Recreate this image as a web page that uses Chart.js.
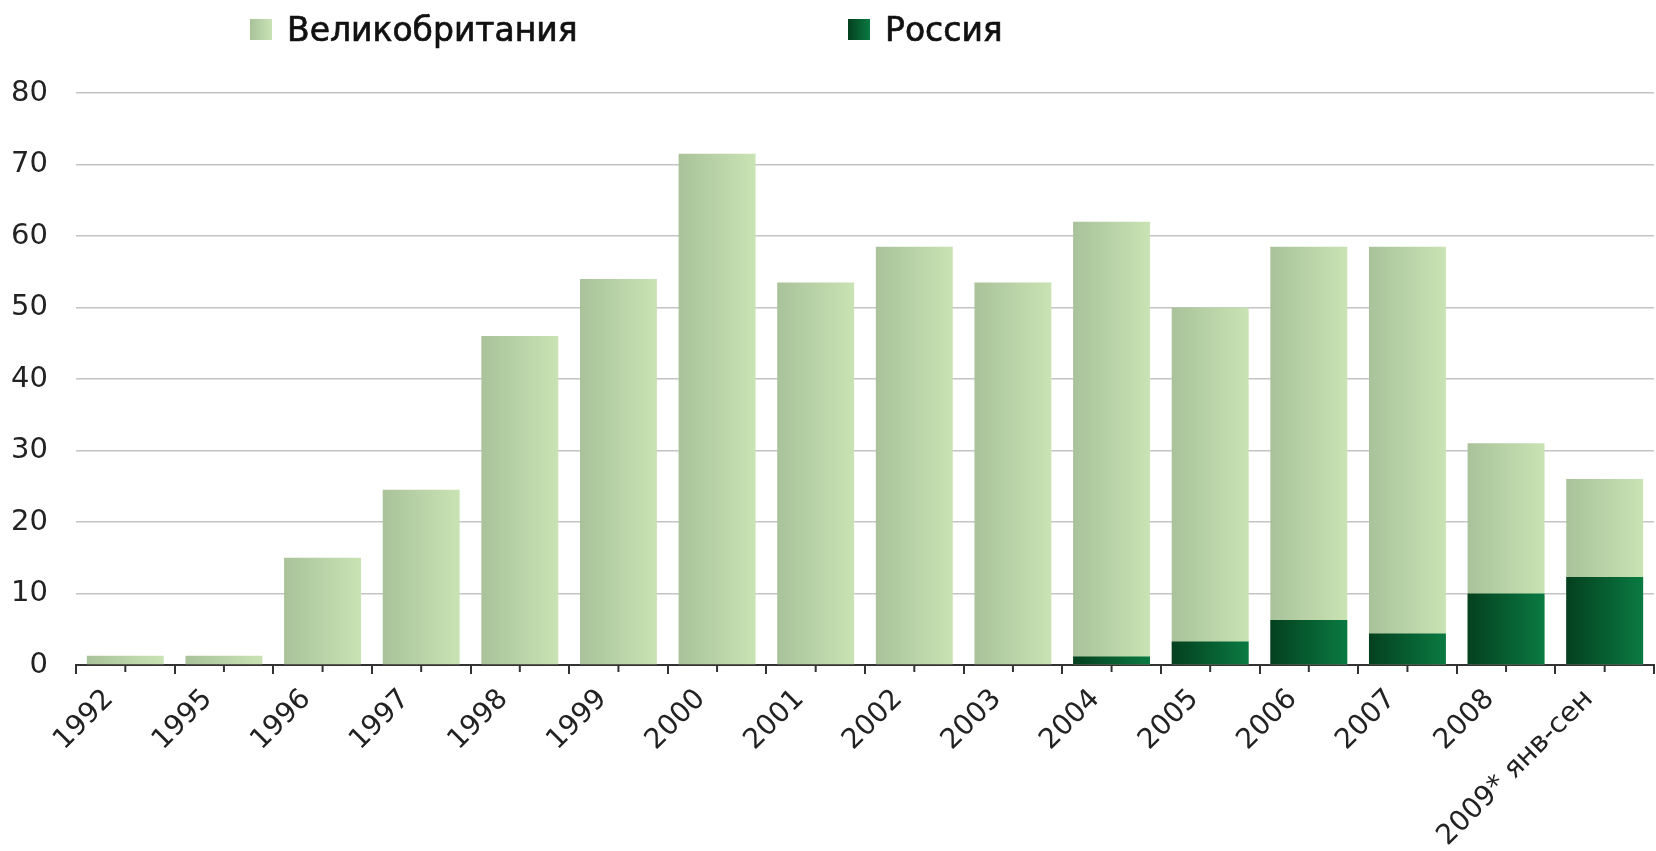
<!DOCTYPE html>
<html lang="ru">
<head>
  <meta charset="UTF-8" />
  <title>Великобритания и Россия</title>
  <script src="https://cdn.jsdelivr.net/npm/chart.js"></script>
  <style>
    body {
      margin: 0;
      background: #fff;
      font-family: "DejaVu Sans", sans-serif;
    }
    #wrap {
      position: relative;
      width: 1656px;
      height: 851px;
    }
    .legend-item {
      position: absolute;
      top: 10px;
      display: flex;
      align-items: center;
      font-size: 33px;
      color: #111;
      -webkit-text-stroke: 0.7px #111;
    }
    .legend-item span.box {
      display: inline-block;
      width: 22px;
      height: 21px;
      margin-right: 15px;
    }
  </style>
</head>
<body>
  <div id="wrap">
    <div class="legend-item" style="left:250px"><span class="box" style="background:linear-gradient(to right,#a9c29a,#c9e3b4)"></span>Великобритания</div>
    <div class="legend-item" style="left:848px"><span class="box" style="background:linear-gradient(to right,#04401f,#0a7a42)"></span>Россия</div>
    <canvas id="grafico" width="1656" height="851"></canvas>
  </div>

  <script>
    const years = ["1992", "1995", "1996", "1997", "1998", "1999", "2000", "2001",
                   "2002", "2003", "2004", "2005", "2006", "2007", "2008", "2009* янв-сен"];
    const ukValues = [1.3, 1.3, 15, 24.5, 46, 54, 71.5, 53.5, 58.5, 53.5, 62, 50, 58.5, 58.5, 31, 26];
    const ruValues = [null, null, null, null, null, null, null, null, null, null, 1.2, 3.3, 6.3, 4.4, 10, 12.3];
    const yTicks = [0, 10, 20, 30, 40, 50, 60, 70, 80];

    const barShare = 0.78;

    // горизонтальный градиент для каждого столбца
    function barGradient(left, right) {
      return function (ctx) {
        const chart = ctx.chart;
        const xs = chart.scales && chart.scales.x;
        if (!chart.chartArea || !xs || ctx.dataIndex === undefined) return right;
        const cx = xs.getPixelForValue(ctx.dataIndex);
        const half = xs.width / years.length * barShare / 2;
        const g = chart.ctx.createLinearGradient(cx - half, 0, cx + half, 0);
        g.addColorStop(0, left);
        g.addColorStop(1, right);
        return g;
      };
    }

    // короткие засечки в центре каждой категории
    const midTicks = {
      id: "midTicks",
      afterDraw(chart) {
        const xs = chart.scales.x;
        const c = chart.ctx;
        c.save();
        c.strokeStyle = "#333";
        c.lineWidth = 2;
        years.forEach((_, i) => {
          const x = xs.getPixelForValue(i);
          c.beginPath();
          c.moveTo(x, xs.top);
          c.lineTo(x, xs.top + 7);
          c.stroke();
        });
        c.restore();
      }
    };

    const ctx = document.getElementById("grafico").getContext("2d");
    new Chart(ctx, {
      type: "bar",
      data: {
        labels: years,
        datasets: [
          {
            label: "Великобритания",
            data: ukValues,
            backgroundColor: barGradient("#a9c29a", "#c9e3b4"),
            order: 2,
            categoryPercentage: barShare,
            barPercentage: 1
          },
          {
            label: "Россия",
            data: ruValues,
            backgroundColor: barGradient("#04401f", "#0a7a42"),
            order: 1,
            categoryPercentage: barShare,
            barPercentage: 1
          }
        ]
      },
      options: {
        responsive: false,
        animation: false,
        layout: { padding: { top: 93, left: 0, right: 2, bottom: 0 } },
        plugins: {
          legend: { display: false },
          tooltip: { enabled: false }
        },
        scales: {
          x: {
            stacked: true,
            afterFit(scale) {
              scale.paddingLeft = 0;
              scale.paddingRight = 0;
              scale.height = 186;
            },
            grid: {
              offset: true,
              drawOnChartArea: false,
              drawTicks: true,
              tickLength: 9,
              color: "#333",
              lineWidth: 2
            },
            border: { color: "#333", width: 2 },
            ticks: {
              color: "#222",
              font: { family: "DejaVu Sans", size: 28 },
              minRotation: 45,
              maxRotation: 45,
              padding: 9,
              labelOffset: -16,
              autoSkip: false
            }
          },
          y: {
            stacked: false,
            min: 0,
            max: 80,
            afterBuildTicks(scale) {
              scale.ticks = yTicks.map(v => ({ value: v }));
            },
            afterFit(scale) {
              scale.width = 76;
            },
            grid: {
              color: "#c4c4c4",
              lineWidth: 1.5,
              drawTicks: false
            },
            border: { display: false },
            ticks: {
              color: "#222",
              font: { family: "DejaVu Sans", size: 29 },
              padding: 28
            }
          }
        }
      },
      plugins: [midTicks]
    });
  </script>
</body>
</html>
